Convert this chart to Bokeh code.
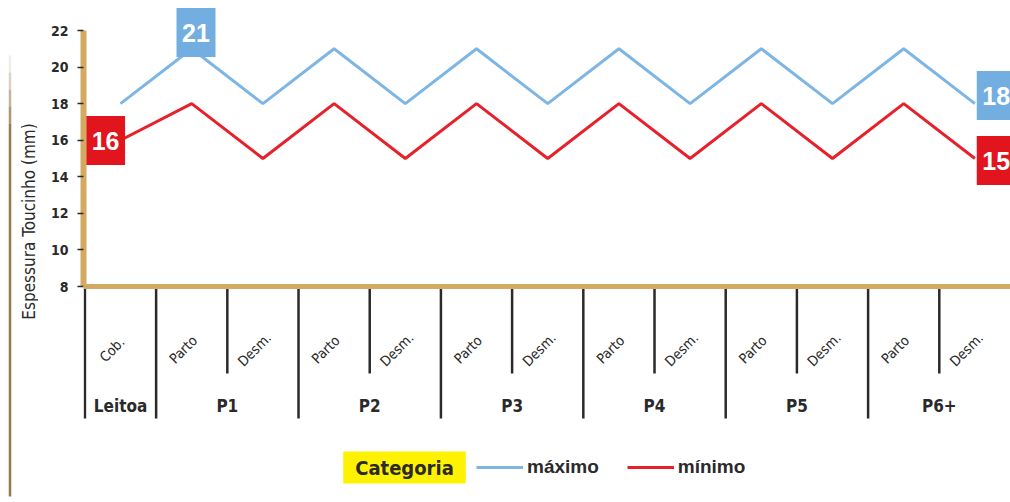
import math
from bokeh.plotting import figure
from bokeh.layouts import row
from bokeh.models import (Range1d, FixedTicker, Span, Label, Legend, LegendItem)
from bokeh.core.properties import value
from bokeh.embed import file_html
from bokeh.resources import INLINE

# ---------------- data ----------------
categories = ["Cob.", "Parto", "Desm.", "Parto", "Desm.", "Parto", "Desm.",
              "Parto", "Desm.", "Parto", "Desm.", "Parto", "Desm."]
groups = ["Leitoa", "P1", "P2", "P3", "P4", "P5", "P6+"]
group_sizes = [1, 2, 2, 2, 2, 2, 2]
maximo = [18, 21, 18, 21, 18, 21, 18, 21, 18, 21, 18, 21, 18]
minimo = [16, 18, 15, 18, 15, 18, 15, 18, 15, 18, 15, 18, 15]
y_ticks = [8, 10, 12, 14, 16, 18, 20, 22]
y_title = "Espessura Toucinho (mm)"

# ---------------- style ----------------
NARROW = "DejaVu Sans Condensed"
BOLD = "Liberation Sans"
GOLD = "#D3AA62"
BLUE = "#7DB6E5"
RED = "#E8202A"
BOX_BLUE = "#72AEE0"
BOX_RED = "#E2141D"
DARK = "#2A2A2A"
BROWN = "#8C6A38"

W, H = 1010, 500
SIDE_W = 38              # strip holding the y-axis title
FRAME_LEFT = 83          # page column of the plot frame's left edge
X_PAD = 0.02
Y22_PX, Y8_PX = 30, 286

n = len(categories)
xc = [i + 0.5 for i in range(n)]

PX_PER_UNIT = (Y8_PX - Y22_PX) / 14.0
Y_TOP = 22 + Y22_PX / PX_PER_UNIT
Y_BOT = 8 - (H - Y8_PX) / PX_PER_UNIT
X_PX_PER_UNIT = (W - FRAME_LEFT) / (n + X_PAD)

def ypx(py):
    """page pixel row -> data value (layout helper)"""
    return 8 - (py - Y8_PX) / PX_PER_UNIT

def xpx(px):
    """page pixel column -> data value (layout helper)"""
    return -X_PAD + (px - FRAME_LEFT) / X_PX_PER_UNIT

yr = Range1d(Y_BOT, Y_TOP)

# ---------------- side strip: y title + decorative rule ----------------
side = figure(width=SIDE_W, height=H, output_backend="svg", toolbar_location=None,
              x_range=Range1d(0, SIDE_W), y_range=yr,
              min_border_left=0, min_border_right=0, min_border_top=0,
              min_border_bottom=0, outline_line_color=None)
side.axis.visible = False
side.grid.visible = False
side.text(x=[28], y=[ypx(221)], text=[y_title], angle=math.pi / 2,
          text_align="center", text_baseline="middle",
          text_font=value(NARROW), text_font_size="17px", text_color=DARK)
seg_top = [55, 72, 89, 106, 123]
seg_bot = [72, 89, 106, 123, 496]
seg_alpha = [0.12, 0.3, 0.5, 0.7, 0.9]
side.segment(x0=[9.5] * 5, x1=[9.5] * 5, y0=[ypx(v) for v in seg_top],
             y1=[ypx(v) for v in seg_bot], line_color=BROWN, line_width=2.5,
             line_alpha=seg_alpha, line_cap="butt")

# ---------------- main chart ----------------
p = figure(width=W - SIDE_W, height=H, output_backend="svg", toolbar_location=None,
           x_range=Range1d(-X_PAD, n), y_range=yr,
           min_border_left=FRAME_LEFT - SIDE_W, min_border_right=0,
           min_border_top=0, min_border_bottom=0, outline_line_color=None)
p.xaxis.visible = False
p.xgrid.visible = False
p.ygrid.visible = False
p.background_fill_color = "white"

ya = p.yaxis[0]
ya.bounds = (8, 22)
ya.ticker = FixedTicker(ticks=y_ticks)
ya.minor_tick_line_color = None
ya.axis_line_color = GOLD
ya.axis_line_width = 6
ya.major_tick_line_color = DARK
ya.major_tick_line_width = 1.5
ya.major_tick_in = 0
ya.major_tick_out = 6
ya.major_label_standoff = 9
ya.major_label_text_font = NARROW
ya.major_label_text_font_size = "14px"
ya.major_label_text_font_style = "bold"
ya.major_label_text_color = DARK

# x baseline (gold)
p.add_layout(Span(location=8, dimension="width", line_color=GOLD, line_width=5))

# separators
starts = []
acc = 0
for s in group_sizes:
    starts.append(acc)
    acc += s
sx, sy0, sy1 = [], [], []
for b in range(n):
    sx.append(b)
    sy0.append(8)
    sy1.append(ypx(418) if b in starts else ypx(373))
p.segment(x0=sx, y0=sy0, x1=sx, y1=sy1, line_color=DARK, line_width=2.5)

# category labels (rotated)
p.text(x=[x - 0.12 for x in xc], y=[ypx(349)] * n, text=categories,
       angle=math.pi / 4, text_align="center", text_baseline="middle",
       text_font=value(NARROW), text_font_size="14px", text_color=DARK)

# group labels
gx = [starts[i] + group_sizes[i] / 2 for i in range(len(groups))]
p.text(x=gx, y=[ypx(405)] * len(groups), text=groups, text_align="center",
       text_baseline="middle", text_font=value(NARROW), text_font_size="17px",
       text_font_style="bold", text_color=DARK)

# lines
r_max = p.line(xc, maximo, line_color=BLUE, line_width=3)
r_min = p.line(xc, minimo, line_color=RED, line_width=3)

# value boxes
bx = [xc[1] + 0.06, xc[-1] + 0.3, xc[0] - 0.21, xc[-1] + 0.3]
by = [ypx(32), ypx(95), ypx(140), ypx(160)]
btxt = [str(maximo[1]), str(maximo[-1]), str(minimo[0]), str(minimo[-1])]
bcol = [BOX_BLUE, BOX_BLUE, BOX_RED, BOX_RED]
p.rect(x=bx, y=by, width=39, height=49, width_units="screen",
       height_units="screen", fill_color=bcol, line_color=None)
p.text(x=bx, y=by, text=btxt, text_align="center", text_baseline="middle",
       text_font=value(BOLD), text_font_size="25px", text_font_style="bold",
       text_color="white")

# legend
legend = Legend(items=[LegendItem(label="máximo", renderers=[r_max]),
                       LegendItem(label="mínimo", renderers=[r_min])],
                orientation="horizontal", location=(476 - FRAME_LEFT, H - 478),
                padding=0, margin=0, spacing=28, label_standoff=4,
                glyph_width=47, glyph_height=22,
                label_text_font=BOLD, label_text_font_size="19px",
                label_text_font_style="bold", label_text_color=DARK,
                background_fill_alpha=0, border_line_alpha=0)
p.add_layout(legend)

cat_label = Label(x=xpx(404), y=ypx(467), text="Categoria",
                  text_align="center", text_baseline="middle",
                  text_font=NARROW, text_font_size="20px", text_font_style="bold",
                  text_color=DARK, background_fill_color="#FFF200",
                  padding=(12, 12, 4, 4))
p.add_layout(cat_label)

layout = row(side, p, spacing=0)
open("out.html", "w").write(file_html(layout, INLINE))
